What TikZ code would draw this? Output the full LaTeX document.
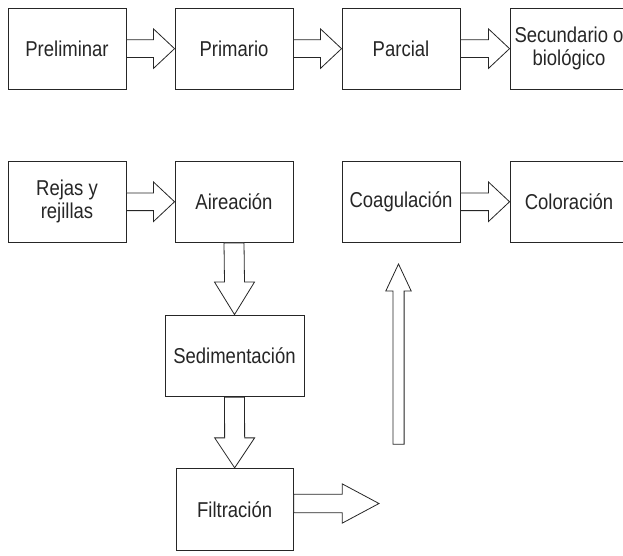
\documentclass[tikz,border=0pt]{standalone}
\usepackage{fontspec}
\setmainfont{Liberation Sans}[FakeStretch=0.86]
\usetikzlibrary{calc}
\definecolor{ink}{HTML}{262626}
\tikzset{
  box/.style={draw=ink, line width=0.9pt, fill=white, inner sep=0pt, align=center,
    text=ink, font=\fontsize{21.5}{23}\selectfont},
  arr/.style={draw=ink, line width=0.8pt, line join=miter, fill=white}
}
% horizontal block arrow: start, tip, shaft half-height, head half-height, head length
\newcommand{\hblockarrow}[5]{%
  \draw[arr] ($(#1)+(0,-#3)$) -- ($(#2)+(-#5,-#3)$) -- ($(#2)+(-#5,-#4)$) -- (#2)
    -- ($(#2)+(-#5,#4)$) -- ($(#2)+(-#5,#3)$) -- ($(#1)+(0,#3)$) -- cycle;}
% vertical block arrow: start, tip, shaft half-width, head half-width, signed head offset
\newcommand{\vblockarrow}[5]{%
  \draw[arr] ($(#1)+(-#3,0)$) -- ($(#2)+(-#3,#5)$) -- ($(#2)+(-#4,#5)$) -- (#2)
    -- ($(#2)+(#4,#5)$) -- ($(#2)+(#3,#5)$) -- ($(#1)+(#3,0)$) -- cycle;}
\begin{document}
\begin{tikzpicture}[x=1pt,y=-1pt]
\useasboundingbox (0,0) rectangle (623,555);
\clip (0,0) rectangle (623,555);
% top row
\node[box, minimum width=118pt, minimum height=81.3pt] (pre) at (67,48.65) {Preliminar};
\node[box, minimum width=118pt, minimum height=81.3pt] (pri) at (234,48.65) {Primario};
\node[box, minimum width=118pt, minimum height=81.3pt] (par) at (401,48.65) {Parcial};
\node[box, minimum width=118pt, minimum height=81.3pt] (sec) at (569,48.65) {Secundario o\\biológico};
% second row
\node[box, minimum width=118pt, minimum height=81.5pt] (rej) at (67,201.75) {Rejas y\\rejillas};
\node[box, minimum width=118pt, minimum height=81.5pt] (air) at (234,201.75) {Aireación};
\node[box, minimum width=118pt, minimum height=81.5pt] (coa) at (401,201.75) {Coagulación};
\node[box, minimum width=118pt, minimum height=81.5pt] (col) at (569,201.75) {Coloración};
% column
\node[box, minimum width=139pt, minimum height=81.7pt] (sed) at (234.5,355.85) {Sedimentación};
\node[box, minimum width=117.3pt, minimum height=82.4pt] (fil) at (234.65,509.5) {Filtración};
% free ends
\coordinate (ftip) at (379,503.5);
\coordinate (upbot) at (398.5,444.3);
\coordinate (uptip) at (398.5,264);
% horizontal arrows
\hblockarrow{pre.east}{pri.west}{8.85}{19.7}{21}
\hblockarrow{pri.east}{par.west}{8.85}{19.7}{21}
\hblockarrow{par.east}{sec.west}{8.85}{19.7}{21}
\hblockarrow{rej.east}{air.west}{8.85}{19.7}{21}
\hblockarrow{coa.east}{col.west}{8.85}{19.7}{21}
\hblockarrow{fil.east |- ftip}{ftip}{9.2}{19.6}{36.7}
% vertical arrows
\vblockarrow{air.south}{sed.north}{10}{20}{-32.5}
\vblockarrow{sed.south}{fil.north}{10}{20}{-30}
\vblockarrow{upbot}{uptip}{5.6}{12.7}{27}
\end{tikzpicture}
\end{document}
